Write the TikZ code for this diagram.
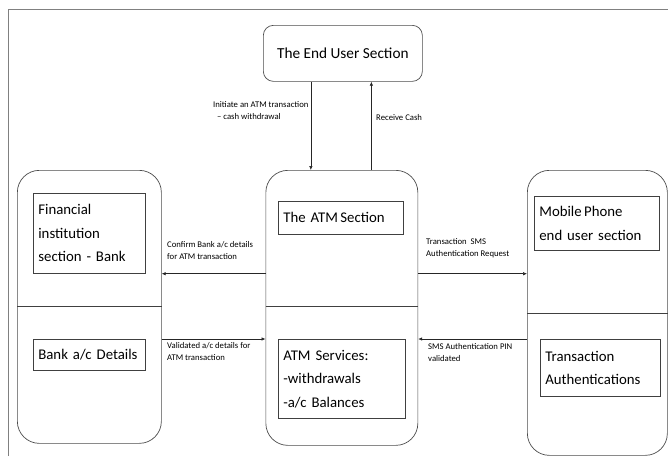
\documentclass[tikz,border=0pt]{standalone}
\usepackage{fontspec}
\setmainfont{Carlito}
\usetikzlibrary{arrows.meta}
\hyphenpenalty=10000

\begin{document}
\begin{tikzpicture}[%
  x=1pt, y=-1pt,
  section/.style={draw=black!70, line width=0.7pt, rounded corners=22pt, anchor=north west},
  part/.style={draw=black!75, line width=0.7pt, anchor=north west, align=left,
    inner xsep=5pt, inner ysep=2pt, font=\fontsize{14.8}{23.5}\selectfont},
  msg/.style={anchor=north west, align=left, inner sep=0pt,
    font=\fontsize{8.7}{12.6}\selectfont},
  flow/.style={draw=black!85, line width=0.6pt, -{Latex[length=4pt,width=3.5pt]}},
  divide/.style={draw=black!75, line width=0.6pt}]
\useasboundingbox (0,0) rectangle (668,456);
\draw[black!50, line width=1.4pt] (8.5,456) -- (8.5,9.5) -- (668,9.5);

\node[section, rounded corners=10pt, minimum width=159pt, minimum height=56pt, align=center,
  font=\fontsize{15.3}{23.5}\selectfont] (user) at (263,25) {The End User Section};

\node[section, minimum width=144pt, minimum height=273pt] (bank) at (17,170) {};
\node[section, minimum width=152pt, minimum height=275pt] (atm) at (265.5,170) {};
\node[section, minimum width=140pt, minimum height=285pt] (phone) at (527,170) {};

\draw[divide] (bank.west |- 0,306) -- (bank.east |- 0,306);
\draw[divide] (atm.west |- 0,306) -- (atm.east |- 0,306);
\draw[divide] (phone.west |- 0,313) -- (phone.east |- 0,313);

\node[part, minimum width=112pt, minimum height=80pt, text width=102pt] (fin) at (33,193)
  {Financial\\institution\\section - Bank};
\node[part, minimum width=112pt, minimum height=31pt, text width=102pt] (acct) at (33,339)
  {Bank a/c Details};
\node[part, minimum width=125pt, minimum height=33pt, text width=115pt] (atmsec) at (278,201)
  {The ATM\,Section};
\node[part, minimum width=127pt, minimum height=79pt, text width=117pt] (services) at (278,339)
  {ATM Services:\\-withdrawals\\-a/c Balances};
\node[part, minimum width=125pt, minimum height=54pt, text width=115pt] (mobile) at (534,196)
  {Mobile\,Phone\\end user section};
\node[part, minimum width=120pt, minimum height=57pt, text width=110pt] (auth) at (540,339)
  {Transaction\\Authentications};

\draw[flow] ([xshift=-32pt]user.south) -- ([xshift=-32pt]user.south |- atm.north);
\draw[flow] ([xshift=28.5pt]user.south |- atm.north) -- ([xshift=28.5pt]user.south);
\draw[flow] (atm.west |- fin.south) -- (bank.east |- fin.south);
\draw[flow] (bank.east |- acct.north) -- (atm.west |- acct.north);
\draw[flow] (atm.east |- fin.south) -- (phone.west |- fin.south);
\draw[flow] (phone.west |- auth.north) -- (atm.east |- auth.north);

\node[msg] (initiate) at (213,101) {Initiate an ATM transaction\\\ \ -- cash withdrawal};
\node[msg] (receive) at (376,114) {Receive Cash};
\node[msg] (confirm) at (167,241) {Confirm Bank a/c details\\for ATM transaction};
\node[msg] (validated) at (167,342) {Validated a/c details for\\ATM transaction};
\node[msg] (request) at (426,238) {Transaction\ \ SMS\\Authentication Request};
\node[msg] (pin) at (428,343) {SMS Authentication PIN\\validated};
\end{tikzpicture}
\end{document}
